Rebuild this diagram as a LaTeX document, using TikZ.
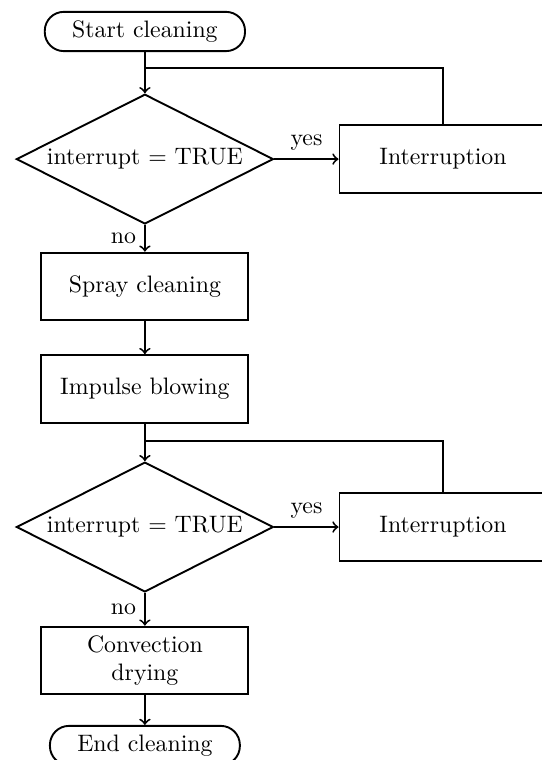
\documentclass[tikz,border=0pt]{standalone}
\usepackage{tikz}
\usetikzlibrary{shapes.geometric}

\begin{document}
\begin{tikzpicture}[
        terminal/.style={draw,thick,rounded corners=8pt,minimum height=16.5pt,inner xsep=11.5pt},
        process/.style={draw,thick,minimum width=87pt,minimum height=28.5pt,align=center},
        decision/.style={draw,thick,diamond,aspect=1.98,inner sep=1.4pt},
        flow/.style={thick,->}]
            \clip (0,0) rectangle (8.005,-11.225);

            % Main components
            \node[terminal] (start) at (2.14,-0.465) {Start cleaning};
            \node[decision] (check1) at (2.14,-2.35) {interrupt = TRUE};
            \node[process] (stop1) at (6.543,-2.35) {Interruption};
            \node[process] (spray) at (2.14,-4.232) {Spray cleaning};
            \node[process] (blow) at (2.14,-5.745) {Impulse blowing};
            \node[decision] (check2) at (2.14,-7.784) {interrupt = TRUE};
            \node[process] (stop2) at (6.543,-7.784) {Interruption};
            \node[process] (dry) at (2.14,-9.755) {Convection\\drying};
            \node[terminal] (end) at (2.14,-11.011) {End cleaning};

            % Junctions of the return lines
            \coordinate (join1) at (2.14,-1.01);
            \coordinate (join2) at (2.14,-6.514);

            % Connections
            \draw[flow] (start) -- (check1);
            \draw[flow] (check1) -- node[above] {yes} (stop1);
            \draw[thick] (stop1.north) |- (join1);
            \draw[flow] (check1) -- node[left] {no} (spray);
            \draw[flow] (spray) -- (blow);
            \draw[flow] (blow) -- (check2);
            \draw[flow] (check2) -- node[above] {yes} (stop2);
            \draw[thick] (stop2.north) |- (join2);
            \draw[flow] (check2) -- node[left] {no} (dry);
            \draw[flow] (dry) -- (end);
        \end{tikzpicture}
\end{document}
